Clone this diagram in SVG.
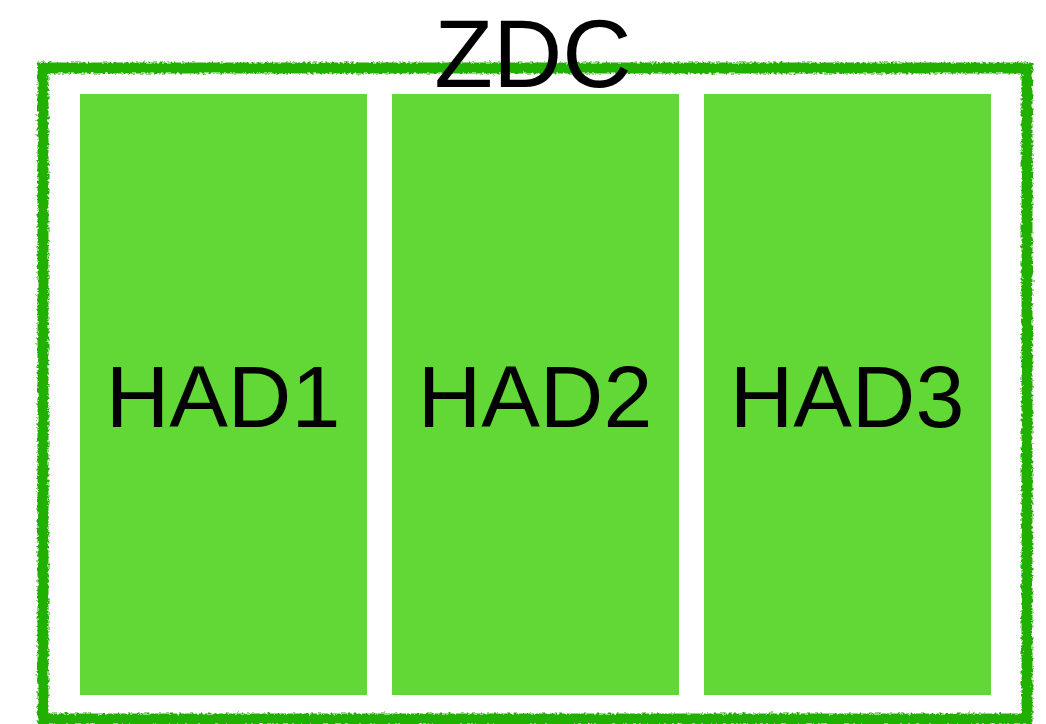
<svg xmlns="http://www.w3.org/2000/svg" width="1046" height="724" viewBox="0 0 1046 724">
<defs>
<filter id="rough" x="-5%" y="-5%" width="110%" height="110%">
<feTurbulence type="fractalNoise" baseFrequency="0.35" numOctaves="2" seed="3" result="n"/>
<feDisplacementMap in="SourceGraphic" in2="n" scale="5" xChannelSelector="R" yChannelSelector="G"/>
</filter>
<style>
.hbox{fill:#61d836;}
.lbl{font-family:"Liberation Sans","DejaVu Sans",sans-serif;font-size:88px;fill:#000;text-anchor:middle;}
.zdc{fill:none;stroke:#22b000;stroke-width:11;}
</style>
</defs>
<rect width="1046" height="724" fill="#fff"/>
<g id="ZDC">
<rect class="zdc" x="43" y="68" width="984" height="651" filter="url(#rough)"/>
</g>
<g id="HAD1">
<rect class="hbox" x="80" y="94" width="287" height="601"/>
<text class="lbl" x="223" y="427">HAD1</text>
</g>
<g id="HAD2">
<rect class="hbox" x="392" y="94" width="287" height="601"/>
<text class="lbl" x="535" y="427">HAD2</text>
</g>
<g id="HAD3">
<rect class="hbox" x="704" y="94" width="287" height="601"/>
<text class="lbl" x="847" y="427">HAD3</text>
</g>
<g id="ZDC-label">
<text class="lbl" x="533" y="87" style="font-size:96px">ZDC</text>
</g>
<g id="connectors"/>
</svg>
